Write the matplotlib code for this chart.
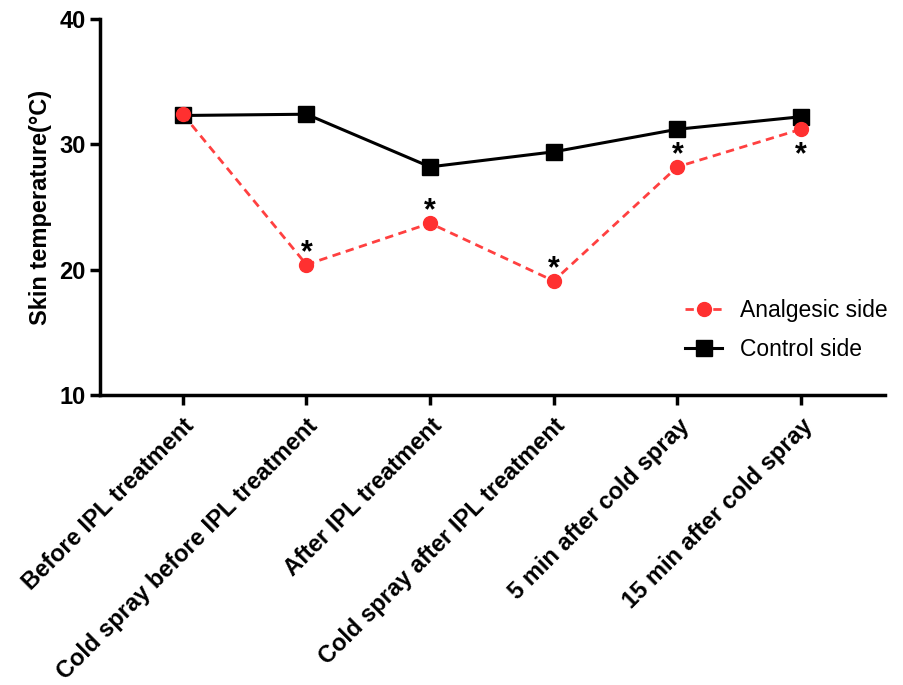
import matplotlib
matplotlib.use("Agg")
import matplotlib.pyplot as plt

categories = ["Before IPL treatment", "Cold spray before IPL treatment", "After IPL treatment",
              "Cold spray after IPL treatment", "5 min after cold spray", "15 min after cold spray"]
analgesic = [32.4, 20.4, 23.7, 19.1, 28.2, 31.2]
control = [32.3, 32.4, 28.2, 29.4, 31.2, 32.2]
sig = [False, True, True, True, True, True]
sig_below = [False, False, False, False, False, True]

plt.rcParams['font.family'] = ['Liberation Sans', 'DejaVu Sans']

fig = plt.figure(figsize=(9.04, 6.85), dpi=100)
ax = fig.add_axes([0.1106, 0.4234, 0.979 - 0.1106, 0.9723 - 0.4234])

x = list(range(len(categories)))
ax.plot(x, control, color='black', lw=2.2, marker='s', ms=11, label='Control side', zorder=3)
ax.plot(x, analgesic, color='#FF4040', lw=2.0, ls=(0, (3, 2)), marker='o', ms=10,
        markerfacecolor='#FF3030', markeredgecolor='#FF3030', label='Analgesic side', zorder=4)

for xi, v, s, b in zip(x, analgesic, sig, sig_below):
    if s:
        if b:
            ax.text(xi, v - 0.9, '*', ha='center', va='top', fontsize=22, fontweight='bold')
        else:
            ax.text(xi, v - 0.25, '*', ha='center', va='bottom', fontsize=22, fontweight='bold')

ax.set_ylim(10, 40)
ax.set_xlim(-0.67, 5.68)
ax.set_yticks([10, 20, 30, 40])
ax.set_xticks(x)
ax.set_xticklabels(categories, rotation=45, ha='right', rotation_mode='anchor',
                   fontsize=17, fontweight='bold')
for lbl in ax.get_yticklabels():
    lbl.set_fontweight('bold')
    lbl.set_fontsize(17)
ax.set_ylabel('Skin temperature(°C)', fontsize=17, fontweight='bold', labelpad=5)

for sp in ['top', 'right']:
    ax.spines[sp].set_visible(False)
for sp in ['left', 'bottom']:
    ax.spines[sp].set_linewidth(2.5)
ax.tick_params(width=2.5, length=7)
ax.tick_params(axis='x', pad=7)

handles, labels = ax.get_legend_handles_labels()
leg = fig.legend(handles[::-1], labels[::-1], loc='upper left',
                 bbox_to_anchor=(676 / 904, 1 - 290 / 685), bbox_transform=fig.transFigure,
                 borderaxespad=0, frameon=False, fontsize=16.5, handlelength=1.6,
                 labelspacing=0.7)

fig.savefig('out.png', dpi=100)
